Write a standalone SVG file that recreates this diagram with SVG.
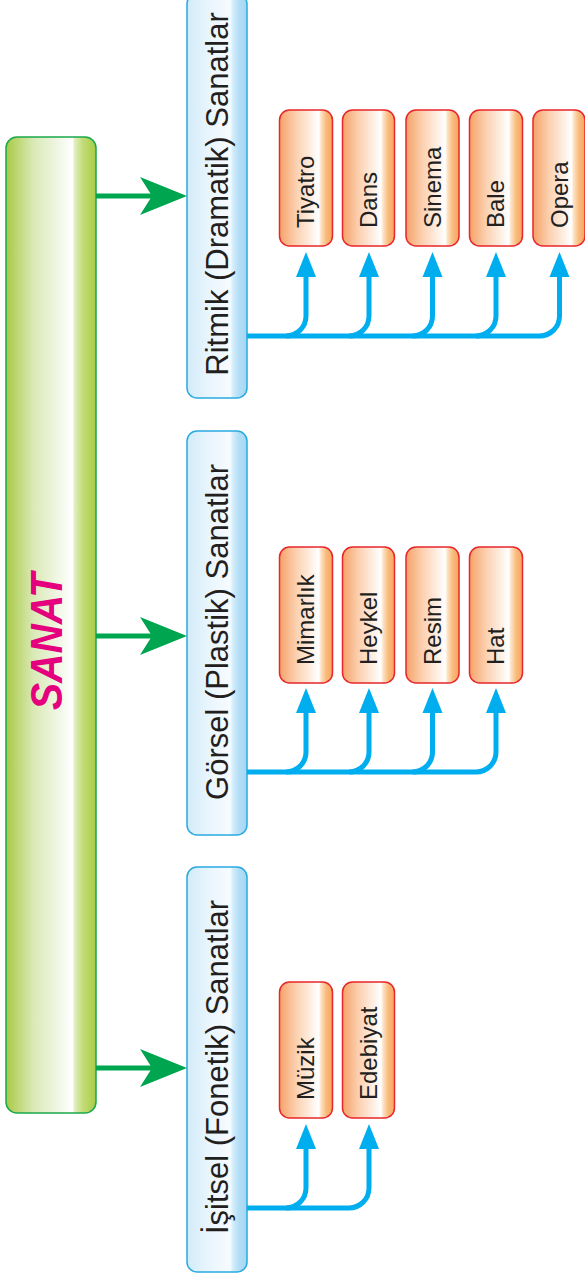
<svg xmlns="http://www.w3.org/2000/svg" width="585" height="1282" viewBox="0 0 585 1282">
<defs>
<linearGradient id="gGreen" x1="0" y1="0" x2="1" y2="0">
<stop offset="0" stop-color="#a7ca45"/>
<stop offset="0.08" stop-color="#b6d262"/>
<stop offset="0.3" stop-color="#d9e9b5"/>
<stop offset="0.55" stop-color="#eef5e0"/>
<stop offset="0.74" stop-color="#ffffff"/>
<stop offset="0.76" stop-color="#e3efc0"/>
<stop offset="0.86" stop-color="#c0db74"/>
<stop offset="1" stop-color="#a9cc45"/>
</linearGradient>
<linearGradient id="gBlue" x1="0" y1="0" x2="1" y2="0">
<stop offset="0" stop-color="#d2ebf9"/>
<stop offset="0.35" stop-color="#e8f5fd"/>
<stop offset="0.72" stop-color="#f7fbff"/>
<stop offset="0.76" stop-color="#d6eefb"/>
<stop offset="0.86" stop-color="#b4def6"/>
<stop offset="1" stop-color="#a3d7f3"/>
</linearGradient>
<linearGradient id="gOrange" x1="0" y1="0" x2="1" y2="0">
<stop offset="0" stop-color="#f6a268"/>
<stop offset="0.3" stop-color="#fbcfae"/>
<stop offset="0.74" stop-color="#ffffff"/>
<stop offset="0.78" stop-color="#fde3c6"/>
<stop offset="0.88" stop-color="#f9bc7e"/>
<stop offset="1" stop-color="#f6a45c"/>
</linearGradient>
</defs>
<style>
.root{fill:url(#gGreen);stroke:#1aa84b;stroke-width:1.5}
.cat{fill:url(#gBlue);stroke:#27aae1;stroke-width:1.5}
.leaf{fill:url(#gOrange);stroke:#e8262b;stroke-width:1.5}
.ct{font-family:"Liberation Sans",Arial,sans-serif;font-size:31px;fill:#231f20;text-anchor:middle}
.lt{font-family:"Liberation Sans",Arial,sans-serif;font-size:24px;fill:#231f20}
.rt{font-family:"Liberation Sans",Arial,sans-serif;font-size:44px;font-weight:bold;font-style:italic;fill:#e5007e;text-anchor:middle}
.gl{stroke:#00a54f;stroke-width:5;fill:none}
.gh{fill:#00a54f}
.bl{stroke:#00aeef;stroke-width:5;fill:none}
.bh{fill:#00aeef}
</style>

<g id="sanat">
<rect class="root" x="6" y="137" width="90" height="976" rx="11"/>
<text class="rt" transform="translate(62,641.5) rotate(-90)" textLength="137" lengthAdjust="spacingAndGlyphs">SANAT</text>
</g>

<g id="ritmik">
<rect class="cat" x="187" y="-6" width="60" height="404" rx="10"/>
<text class="ct" transform="translate(228,194) rotate(-90)">Ritmik (Dramatik) Sanatlar</text>
</g>
<g id="gorsel">
<rect class="cat" x="187" y="431" width="60" height="404" rx="10"/>
<text class="ct" transform="translate(228,632) rotate(-90)">Görsel (Plastik) Sanatlar</text>
</g>
<g id="isitsel">
<rect class="cat" x="187" y="867" width="60" height="405" rx="10"/>
<text class="ct" transform="translate(228,1067) rotate(-90)">İşitsel (Fonetik) Sanatlar</text>
</g>

<g id="tiyatro"><rect class="leaf" x="279.5" y="110" width="53" height="136" rx="10"/><text class="lt" transform="translate(314,228) rotate(-90)">Tiyatro</text></g>
<g id="dans"><rect class="leaf" x="342.5" y="110" width="52" height="136" rx="10"/><text class="lt" transform="translate(377,228) rotate(-90)">Dans</text></g>
<g id="sinema"><rect class="leaf" x="406" y="110" width="53" height="136" rx="10"/><text class="lt" transform="translate(440.5,228) rotate(-90)">Sinema</text></g>
<g id="bale"><rect class="leaf" x="469.5" y="110" width="53" height="136" rx="10"/><text class="lt" transform="translate(504,228) rotate(-90)">Bale</text></g>
<g id="opera"><rect class="leaf" x="533" y="110" width="52" height="136" rx="10"/><text class="lt" transform="translate(567.5,228) rotate(-90)">Opera</text></g>

<g id="mimarlik"><rect class="leaf" x="279.5" y="547" width="53" height="136" rx="10"/><text class="lt" transform="translate(314,665) rotate(-90)">Mimarlık</text></g>
<g id="heykel"><rect class="leaf" x="342.5" y="547" width="52" height="136" rx="10"/><text class="lt" transform="translate(377,665) rotate(-90)">Heykel</text></g>
<g id="resim"><rect class="leaf" x="406" y="547" width="53" height="136" rx="10"/><text class="lt" transform="translate(440.5,665) rotate(-90)">Resim</text></g>
<g id="hat"><rect class="leaf" x="469.5" y="547" width="53" height="136" rx="10"/><text class="lt" transform="translate(504,665) rotate(-90)">Hat</text></g>

<g id="muzik"><rect class="leaf" x="279.5" y="982" width="53" height="136" rx="10"/><text class="lt" transform="translate(314,1100) rotate(-90)">Müzik</text></g>
<g id="edebiyat"><rect class="leaf" x="342.5" y="982" width="52" height="136" rx="10"/><text class="lt" transform="translate(377,1100) rotate(-90)">Edebiyat</text></g>

<g id="connectors">
<path class="gl" d="M96 196 H153"/>
<polygon class="gh" points="187,196 140,177 152,196 140,215"/>
<path class="gl" d="M96 636 H153"/>
<polygon class="gh" points="187,636 140,617 152,636 140,655"/>
<path class="gl" d="M96 1068 H153"/>
<polygon class="gh" points="187,1068 140,1049 152,1068 140,1087"/>

<path class="bl" d="M247 336 H539.5 A20 20 0 0 0 559.5 316 V276"/>
<path class="bl" d="M286 336 A20 20 0 0 0 306 316 V276"/>
<path class="bl" d="M349 336 A20 20 0 0 0 369 316 V276"/>
<path class="bl" d="M412.5 336 A20 20 0 0 0 432.5 316 V276"/>
<path class="bl" d="M476 336 A20 20 0 0 0 496 316 V276"/>
<polygon class="bh" points="296,277 306,252 316,277"/>
<polygon class="bh" points="359,277 369,252 379,277"/>
<polygon class="bh" points="422.5,277 432.5,252 442.5,277"/>
<polygon class="bh" points="486,277 496,252 506,277"/>
<polygon class="bh" points="549.5,277 559.5,252 569.5,277"/>

<path class="bl" d="M247 772 H476 A20 20 0 0 0 496 752 V712"/>
<path class="bl" d="M286 772 A20 20 0 0 0 306 752 V712"/>
<path class="bl" d="M349 772 A20 20 0 0 0 369 752 V712"/>
<path class="bl" d="M412.5 772 A20 20 0 0 0 432.5 752 V712"/>
<polygon class="bh" points="296,713 306,688 316,713"/>
<polygon class="bh" points="359,713 369,688 379,713"/>
<polygon class="bh" points="422.5,713 432.5,688 442.5,713"/>
<polygon class="bh" points="486,713 496,688 506,713"/>

<path class="bl" d="M247 1208 H349 A20 20 0 0 0 369 1188 V1148"/>
<path class="bl" d="M286 1208 A20 20 0 0 0 306 1188 V1148"/>
<polygon class="bh" points="296,1149 306,1124 316,1149"/>
<polygon class="bh" points="359,1149 369,1124 379,1149"/>
</g>
</svg>
